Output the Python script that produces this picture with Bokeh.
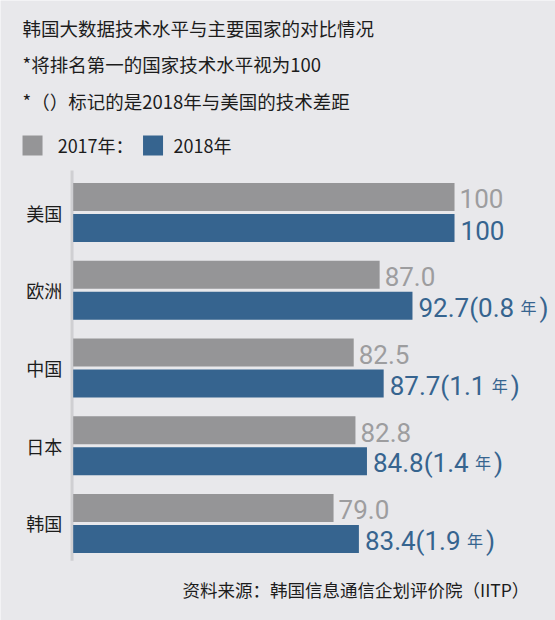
from bokeh.plotting import figure
from bokeh.models import Range1d, ColumnDataSource
from bokeh.transform import dodge
from bokeh.core.properties import value
from bokeh.embed import file_html
from bokeh.resources import INLINE

# data
countries = ["美国", "欧洲", "中国", "日本", "韩国"]
score_2017 = [100, 87.0, 82.5, 82.8, 79.0]
score_2018 = [100, 92.7, 87.7, 84.8, 83.4]
gap_years = [None, 0.8, 1.1, 1.4, 1.9]   # years behind the US in 2018

title_lines = [
    "韩国大数据技术水平与主要国家的对比情况",
    "*将排名第一的国家技术水平视为100",
    "*（）标记的是2018年与美国的技术差距",
]
legend_labels = ["2017年：", "2018年"]
source_note = "资料来源：韩国信息通信企划评价院（IITP）"

BG = "#e8e8eb"
GRAY = "#959597"
GRAY_TXT = "#9d9d9f"
BLUE = "#36648f"
DARK = "#1c1c1c"
CJK = value("Noto Sans CJK SC")
NUM = value("Roboto")
BASE = 33.8   # where the bars start (axis is truncated in the original)


def fmt(v):
    return "100" if v == 100 else f"{v:.1f}"


idx = list(range(len(countries)))
src = ColumnDataSource(dict(
    idx=idx,
    country=countries,
    s17=score_2017,
    s18=score_2018,
    lab17=[fmt(v) for v in score_2017],
    lab18=[fmt(v) if g is None else f"{fmt(v)}({g}" for v, g in zip(score_2018, gap_years)],
))
gap_rows = [i for i, g in enumerate(gap_years) if g is not None]
gap_src = ColumnDataSource(dict(
    idx=gap_rows,
    s18=[score_2018[i] for i in gap_rows],
    nian=["年"] * len(gap_rows),
    close=[")"] * len(gap_rows),
))

p = figure(width=555, height=620,
           x_range=Range1d(21.18, 117.53), y_range=Range1d(5.248, -2.727),
           x_axis_location=None, y_axis_location=None,
           toolbar_location=None, output_backend="svg", min_border=0,
           background_fill_color=BG, border_fill_color=BG, outline_line_color=None)
p.grid.visible = False

# axis line
p.segment(x0=[BASE - 0.2], x1=[BASE - 0.2], y0=[idx[0] - 0.54], y1=[idx[-1] + 0.48],
          line_color="#cfcfd2", line_width=3)

# bars
p.hbar(y=dodge("idx", -0.2), left=BASE, right="s17", height=0.36,
       fill_color=GRAY, line_color=None, source=src)
p.hbar(y=dodge("idx", 0.2), left=BASE, right="s18", height=0.36,
       fill_color=BLUE, line_color=None, source=src)

# value labels
p.text(x="s17", y=dodge("idx", -0.2), text="lab17", x_offset=5, y_offset=2,
       text_baseline="middle", text_font=NUM, text_font_size="26px",
       text_color=GRAY_TXT, source=src)
p.text(x="s18", y=dodge("idx", 0.2), text="lab18", x_offset=6, y_offset=2,
       text_baseline="middle", text_font=NUM, text_font_size="26px",
       text_color=BLUE, source=src)
p.text(x="s18", y=dodge("idx", 0.2), text="nian", x_offset=108, y_offset=1,
       text_baseline="middle", text_font=CJK, text_font_size="16px",
       text_color=BLUE, source=gap_src)
p.text(x="s18", y=dodge("idx", 0.2), text="close", x_offset=127, y_offset=2,
       text_baseline="middle", text_font=NUM, text_font_size="26px",
       text_color=BLUE, source=gap_src)

# category labels
p.text(x=BASE - 0.5, y="idx", text="country", x_offset=-8,
       text_align="right", text_baseline="middle", text_font=CJK,
       text_font_size="18px", text_color=DARK, source=src)

# header
p.text(x=[25.0] * 3, y=[-2.367, -1.904, -1.44], text=title_lines,
       text_baseline="middle", text_font=CJK, text_font_size="18.5px",
       text_color=DARK)

# legend
p.rect(x=[26.74, 47.66], y=[-0.862, -0.862], width=20, height=20,
       width_units="screen", height_units="screen",
       fill_color=[GRAY, BLUE], line_color=None)
p.text(x=[31.1, 51.2], y=[-0.862, -0.862], text=legend_labels,
       text_baseline="middle", text_font=CJK, text_font_size="18px",
       text_color=DARK)

# source
p.text(x=[52.78], y=[4.85], text=[source_note], text_baseline="middle",
       text_font=CJK, text_font_size="17.5px", text_color=DARK)

open("out.html", "w").write(file_html(p, INLINE))
